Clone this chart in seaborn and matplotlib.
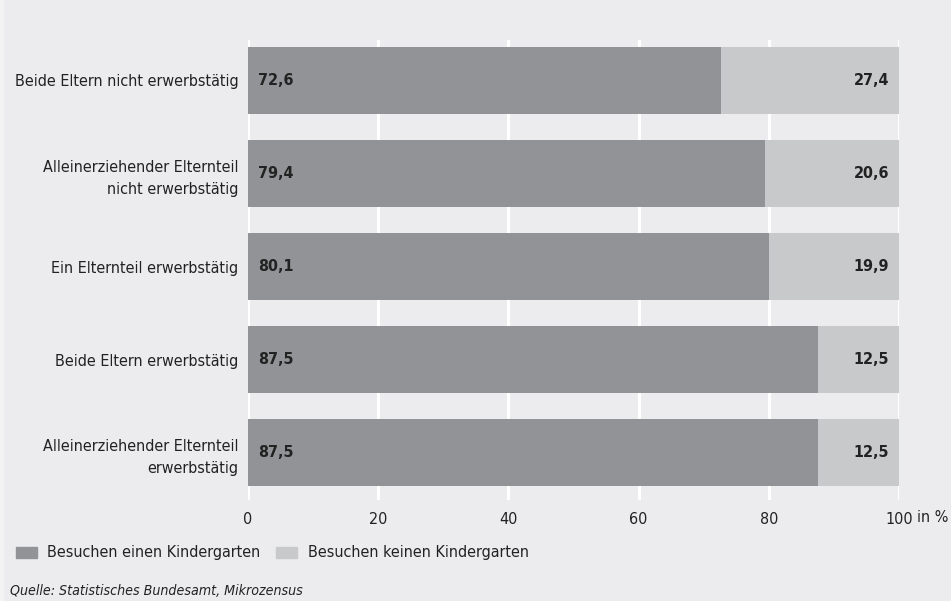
import matplotlib
matplotlib.use("Agg")
import matplotlib.pyplot as plt
import seaborn as sns
import pandas as pd

# Kindergarten attendance by parents' employment status
categories = [
    "Beide Eltern nicht erwerbstätig",
    "Alleinerziehender Elternteil\nnicht erwerbstätig",
    "Ein Elternteil erwerbstätig",
    "Beide Eltern erwerbstätig",
    "Alleinerziehender Elternteil\nerwerbstätig",
]
besuchen = [72.6, 79.4, 80.1, 87.5, 87.5]
nicht_besuchen = [27.4, 20.6, 19.9, 12.5, 12.5]
x_ticks = [0, 20, 40, 60, 80, 100]
series_names = ["Besuchen einen Kindergarten", "Besuchen keinen Kindergarten"]

BG = "#ECECEE"
DARK = "#929396"
LIGHT = "#C8C9CB"
TEXT = "#222222"
FS = 11.5

sns.set_theme(style="white")
plt.rcParams["font.family"] = ["DejaVu Sans"]
plt.rcParams["font.stretch"] = "condensed"

df = pd.DataFrame({
    "kategorie": categories,
    "besuchen": besuchen,
    "nicht": nicht_besuchen,
})
df["gesamt"] = df["besuchen"] + df["nicht"]

fig = plt.figure(figsize=(9.51, 6.01), dpi=100, facecolor=BG)
# thin light strip along the left edge of the panel
fig.patches.append(plt.Rectangle((0, 0), 3 / 951, 1, transform=fig.transFigure,
                                 color="#F3F3F4", zorder=0))
ax = fig.add_axes([248 / 951, 1 - 500 / 601, (899 - 248) / 951, (500 - 40) / 601])
ax.set_facecolor(BG)

sns.barplot(data=df, x="gesamt", y="kategorie", color=LIGHT, width=0.72,
            saturation=1, ax=ax, zorder=2, linewidth=0)
sns.barplot(data=df, x="besuchen", y="kategorie", color=DARK, width=0.72,
            saturation=1, ax=ax, zorder=3, linewidth=0)

ax.set_xlim(0, 100)
ax.set_ylim(4.51, -0.435)
ax.set_xticks(x_ticks)
ax.set_xticklabels([str(t) for t in x_ticks])
ax.set_xlabel("")
ax.set_ylabel("")
for s in ax.spines.values():
    s.set_visible(False)
ax.tick_params(axis="both", length=0, labelsize=FS, colors=TEXT)
ax.tick_params(axis="x", pad=9)
ax.tick_params(axis="y", pad=7)
for lbl in ax.get_yticklabels():
    lbl.set_horizontalalignment("right")
    lbl.set_multialignment("right")
    lbl.set_linespacing(1.6)
ax.xaxis.grid(True, color="white", linewidth=2.2, zorder=1)
ax.set_axisbelow(True)

# value labels
for i, (d, n) in enumerate(zip(besuchen, nicht_besuchen)):
    ax.text(1.5, i, f"{d:.1f}".replace(".", ","), va="center", ha="left",
            fontsize=FS, fontweight="bold", color=TEXT, zorder=5)
    ax.text(d + n - 1.5, i, f"{n:.1f}".replace(".", ","), va="center", ha="right",
            fontsize=FS, fontweight="bold", color=TEXT, zorder=5)

# unit after the last tick label
fig.text(917 / 951, 1 - 517 / 601, "in %", ha="left", va="center",
         fontsize=FS, color=TEXT)

# legend
fig.patches.append(plt.Rectangle((16 / 951, 1 - 558 / 601), 21 / 951, 11 / 601,
                                 transform=fig.transFigure, color=DARK))
fig.text(47 / 951, 1 - 553 / 601, series_names[0], ha="left", va="center",
         fontsize=FS, color=TEXT)
fig.patches.append(plt.Rectangle((276 / 951, 1 - 558 / 601), 21 / 951, 11 / 601,
                                 transform=fig.transFigure, color=LIGHT))
fig.text(308 / 951, 1 - 553 / 601, series_names[1], ha="left", va="center",
         fontsize=FS, color=TEXT)

fig.text(10 / 951, 1 - 591 / 601, "Quelle: Statistisches Bundesamt, Mikrozensus",
         ha="left", va="center", fontsize=10.2, style="italic", color=TEXT)

fig.savefig("out.png", dpi=100, facecolor=BG)
